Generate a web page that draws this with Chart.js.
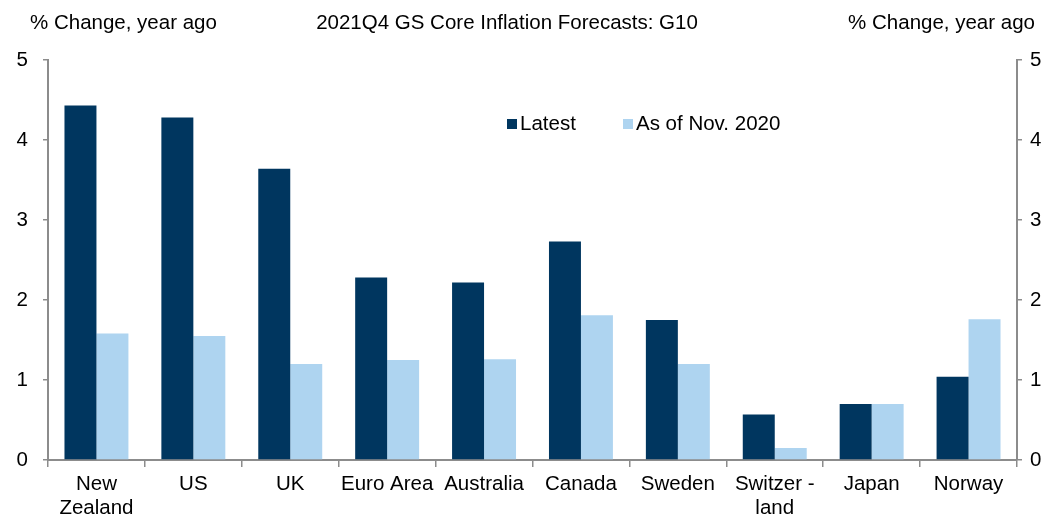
<!DOCTYPE html>
<html>
<head>
<meta charset="utf-8">
<script src="https://cdn.jsdelivr.net/npm/chart.js@4"></script>
<style>
  html, body { margin: 0; padding: 0; background: #fff; }
  #wrap { width: 1045px; height: 516px; }
</style>
</head>
<body>
<div id="wrap"><canvas id="grafico" width="1045" height="516"></canvas></div>
<script>
// datos
const paises = [['New', 'Zealand'], 'US', 'UK', 'Euro Area', 'Australia', 'Canada', 'Sweden', ['Switzer -', 'land'], 'Japan', 'Norway'];
const ultimo = [4.43, 4.28, 3.64, 2.28, 2.22, 2.73, 1.75, 0.57, 0.70, 1.04];
const nov2020 = [1.58, 1.55, 1.20, 1.25, 1.26, 1.81, 1.20, 0.15, 0.70, 1.76];
const nombresSeries = ['Latest', 'As of Nov. 2020'];
const tituloGrafico = '2021Q4 GS Core Inflation Forecasts: G10';
const tituloEje = '% Change, year ago';

const FUENTE = 'Arial, "Liberation Sans", sans-serif';
const TAM = 20.5;
const GRIS = '#8c8c8c';
const colores = ['#00365f', '#aed4f0'];

// textos de cabecera y leyenda
const cabecera = {
  id: 'cabecera',
  afterDraw(chart) {
    const ctx = chart.ctx;
    ctx.save();
    ctx.fillStyle = '#000';
    ctx.font = TAM + 'px ' + FUENTE;
    ctx.textBaseline = 'middle';
    ctx.textAlign = 'left';
    ctx.fillText(tituloEje, 30, 23);
    ctx.textAlign = 'center';
    ctx.fillText(tituloGrafico, 507, 23);
    ctx.textAlign = 'right';
    ctx.fillText(tituloEje, 1035, 23);

    // leyenda
    const posX = [507, 623];
    ctx.textAlign = 'left';
    nombresSeries.forEach((nombre, i) => {
      ctx.fillStyle = colores[i];
      ctx.fillRect(posX[i], 119, 10, 10);
      ctx.fillStyle = '#000';
      ctx.fillText(nombre, posX[i] + 13, 124);
    });
    ctx.restore();
  }
};

const ejeY = (pos, ancho, pad) => ({
  type: 'linear',
  position: pos,
  min: 0,
  max: 5,
  ticks: { stepSize: 1, color: '#000', font: { size: TAM, family: FUENTE }, padding: pad },
  grid: { drawOnChartArea: false, drawTicks: true, tickLength: 5, color: GRIS, lineWidth: 1.5 },
  border: { display: true, color: GRIS, width: 2 },
  afterFit(scale) { scale.width = ancho; }
});

new Chart(document.querySelector('#grafico'), {
  type: 'bar',
  data: {
    labels: paises,
    datasets: [
      { label: nombresSeries[0], data: ultimo, backgroundColor: colores[0], yAxisID: 'y' },
      { label: nombresSeries[1], data: nov2020, backgroundColor: colores[1], yAxisID: 'y' }
    ]
  },
  options: {
    responsive: false,
    animation: false,
    layout: { padding: { top: 60, left: 0, right: 0, bottom: 0 } },
    datasets: { bar: { categoryPercentage: 0.66, barPercentage: 1.0 } },
    plugins: { legend: { display: false }, tooltip: { enabled: false }, title: { display: false } },
    scales: {
      x: {
        offset: true,
        ticks: { color: '#000', font: { size: TAM, family: FUENTE, lineHeight: 1.15 }, padding: 6, maxRotation: 0, autoSkip: false },
        grid: { offset: true, drawOnChartArea: false, drawTicks: true, tickLength: 7, color: GRIS, lineWidth: 1.5 },
        border: { display: true, color: GRIS, width: 2 },
        afterFit(scale) { scale.height = 56; }
      },
      y: ejeY('left', 48, 15),
      y2: ejeY('right', 28, 8)
    }
  },
  plugins: [cabecera]
});
</script>
</body>
</html>
